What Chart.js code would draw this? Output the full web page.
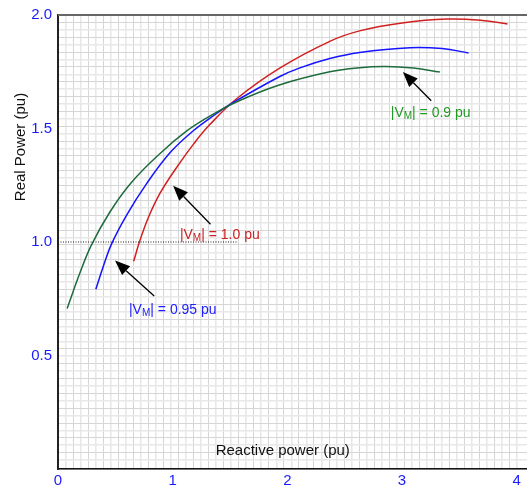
<!DOCTYPE html>
<html>
<head>
<meta charset="utf-8">
<script src="https://cdn.jsdelivr.net/npm/chart.js@4.4.1/dist/chart.umd.min.js"></script>
<style>
  body { margin: 0; background: #fff; }
  #wrap { width: 527px; height: 490px; }
</style>
</head>
<body>
<div id="wrap"><canvas id="pqChart"></canvas></div>
<script>
// Reactive power (x) and real power (y) for each receiving-end voltage
const qV100 = [0.66, 0.71, 0.79, 0.89, 1.03, 1.18, 1.32, 1.56, 1.93, 2.37, 2.63, 3.00, 3.39, 3.70, 3.92];
const pV100 = [0.915, 1.0, 1.11, 1.215, 1.325, 1.43, 1.515, 1.632, 1.765, 1.884, 1.93, 1.965, 1.982, 1.976, 1.960];

const qV095 = [0.33, 0.40, 0.47, 0.60, 0.77, 0.98, 1.18, 1.38, 1.50, 1.93, 2.11, 2.37, 2.63, 3.07, 3.35, 3.58];
const pV095 = [0.792, 0.900, 0.995, 1.12, 1.255, 1.395, 1.49, 1.565, 1.606, 1.728, 1.767, 1.808, 1.835, 1.856, 1.852, 1.833];

const qV090 = [0.08, 0.19, 0.29, 0.45, 0.64, 0.89, 1.12, 1.32, 1.56, 1.93, 2.37, 2.63, 2.86, 3.10, 3.33];
const pV090 = [0.707, 0.862, 0.985, 1.13, 1.262, 1.39, 1.488, 1.553, 1.618, 1.692, 1.750, 1.768, 1.773, 1.766, 1.749];

// P = 1.0 pu reference line
const refQ = [0, 1.57];
const refP = [1.0, 1.0];

const xTicks = [0, 1, 2, 3, 4];
const yTicks = [0.5, 1.0, 1.5, 2.0];

function pts(xs, ys) {
  return xs.map((x, i) => ({ x: x, y: ys[i] }));
}

const BLUE = '#1a1aff';

// curve labels with arrows, in data units
const callouts = [
  { color: '#cc2222', value: '1.0', at: [1.063, 1.035], tail: [1.33, 1.078], tip: [1.004, 1.248] },
  { color: '#2020ff', value: '0.95', at: [0.619, 0.707], tail: [0.839, 0.762], tip: [0.497, 0.918] },
  { color: '#229922', value: '0.9', at: [2.902, 1.574], tail: [3.255, 1.622], tip: [3.008, 1.749] }
];

const decorations = {
  id: 'decorations',
  beforeDatasetsDraw(chart) {
    const { ctx, chartArea } = chart;
    ctx.save();
    ctx.strokeStyle = '#666';
    ctx.lineWidth = 2;
    ctx.beginPath();
    ctx.moveTo(chartArea.left, chartArea.top);
    ctx.lineTo(chartArea.right, chartArea.top);
    ctx.stroke();
    ctx.restore();
  },
  afterDatasetsDraw(chart) {
    const { ctx } = chart;
    const xs = chart.scales.x, ys = chart.scales.y;
    ctx.save();

    // axis titles
    ctx.fillStyle = '#111';
    ctx.font = '15px "Liberation Sans", Arial, sans-serif';
    ctx.textAlign = 'center';
    ctx.textBaseline = 'middle';
    ctx.fillText('Reactive power (pu)', xs.getPixelForValue(1.96), ys.getPixelForValue(0.078));
    ctx.translate(21, 147);
    ctx.rotate(-Math.PI / 2);
    ctx.fillText('Real Power (pu)', 0, 0);
    ctx.setTransform(1, 0, 0, 1, 0, 0);

    callouts.forEach(c => {
      const tx = xs.getPixelForValue(c.tail[0]), ty = ys.getPixelForValue(c.tail[1]);
      const hx = xs.getPixelForValue(c.tip[0]), hy = ys.getPixelForValue(c.tip[1]);
      const ang = Math.atan2(hy - ty, hx - tx);
      const len = 15, half = 6;
      const bx = hx - len * Math.cos(ang), by = hy - len * Math.sin(ang);
      ctx.strokeStyle = '#000';
      ctx.lineWidth = 1.3;
      ctx.beginPath();
      ctx.moveTo(tx, ty);
      ctx.lineTo(bx, by);
      ctx.stroke();
      ctx.fillStyle = '#000';
      ctx.beginPath();
      ctx.moveTo(hx, hy);
      ctx.lineTo(bx + half * Math.sin(ang), by - half * Math.cos(ang));
      ctx.lineTo(bx - half * Math.sin(ang), by + half * Math.cos(ang));
      ctx.closePath();
      ctx.fill();

      // |V_M| = value pu
      let x = xs.getPixelForValue(c.at[0]);
      const base = ys.getPixelForValue(c.at[1]) + 5;
      ctx.fillStyle = c.color;
      ctx.textAlign = 'left';
      ctx.textBaseline = 'alphabetic';
      ctx.font = '14px "Liberation Sans", Arial, sans-serif';
      ctx.fillText('|V', x, base);
      x += ctx.measureText('|V').width;
      ctx.font = '10px "Liberation Sans", Arial, sans-serif';
      ctx.fillText('M', x, base + 2);
      x += ctx.measureText('M').width;
      ctx.font = '14px "Liberation Sans", Arial, sans-serif';
      ctx.fillText('| = ' + c.value + ' pu', x, base);
    });
    ctx.restore();
  }
};

const fineGrid = (ctx) => ({
  color: ctx.index % 2 ? '#e8e8e8' : '#d6d6d6',
  width: ctx.index % 2 ? 1.6 : 1
});

new Chart(document.getElementById('pqChart'), {
  type: 'line',
  data: {
    datasets: [
      { data: pts(refQ, refP), borderColor: '#222', borderWidth: 1, borderDash: [1, 1.5], tension: 0 },
      { data: pts(qV090, pV090), borderColor: '#1e6b3c', borderWidth: 1.5 },
      { data: pts(qV095, pV095), borderColor: '#1414ff', borderWidth: 1.5 },
      { data: pts(qV100, pV100), borderColor: '#d02020', borderWidth: 1.5 }
    ]
  },
  options: {
    responsive: true,
    maintainAspectRatio: false,
    animation: false,
    parsing: false,
    elements: { point: { radius: 0 }, line: { tension: 0.4 } },
    layout: { padding: { top: 10, left: 0, right: 0, bottom: 0 } },
    plugins: { legend: { display: false }, tooltip: { enabled: false } },
    scales: {
      x: {
        type: 'linear',
        min: 0,
        max: 4.09,
        afterBuildTicks: s => { s.ticks = xTicks.map(v => ({ value: v })); },
        ticks: { color: BLUE, padding: 3, font: { size: 15, family: '"Liberation Sans", Arial' }, callback: v => String(v) },
        grid: { display: false, drawTicks: false },
        border: { display: true, color: '#111', width: 1.5 },
        afterFit: s => { s.height = 21; }
      },
      y: {
        type: 'linear',
        min: 0,
        max: 2,
        afterBuildTicks: s => { s.ticks = yTicks.map(v => ({ value: v })); },
        ticks: { color: BLUE, padding: 6, font: { size: 15, family: '"Liberation Sans", Arial' }, callback: v => v.toFixed(1) },
        grid: { display: false, drawTicks: false },
        border: { display: true, color: '#222', width: 2 },
        afterFit: s => { s.width = 58; }
      },
      gx: {
        type: 'linear',
        axis: 'x',
        position: 'bottom',
        min: 0,
        max: 62.3,
        ticks: { display: false, stepSize: 1 },
        grid: { drawTicks: false, color: c => fineGrid(c).color, lineWidth: c => fineGrid(c).width },
        border: { display: false },
        afterFit: s => { s.height = 0; }
      },
      gy: {
        type: 'linear',
        axis: 'y',
        position: 'left',
        reverse: true,
        min: 0,
        max: 61.2,
        ticks: { display: false, stepSize: 1 },
        grid: { drawTicks: false, color: c => fineGrid(c).color, lineWidth: c => fineGrid(c).width },
        border: { display: false },
        afterFit: s => { s.width = 0; }
      }
    }
  },
  plugins: [decorations]
});
</script>
</body>
</html>
